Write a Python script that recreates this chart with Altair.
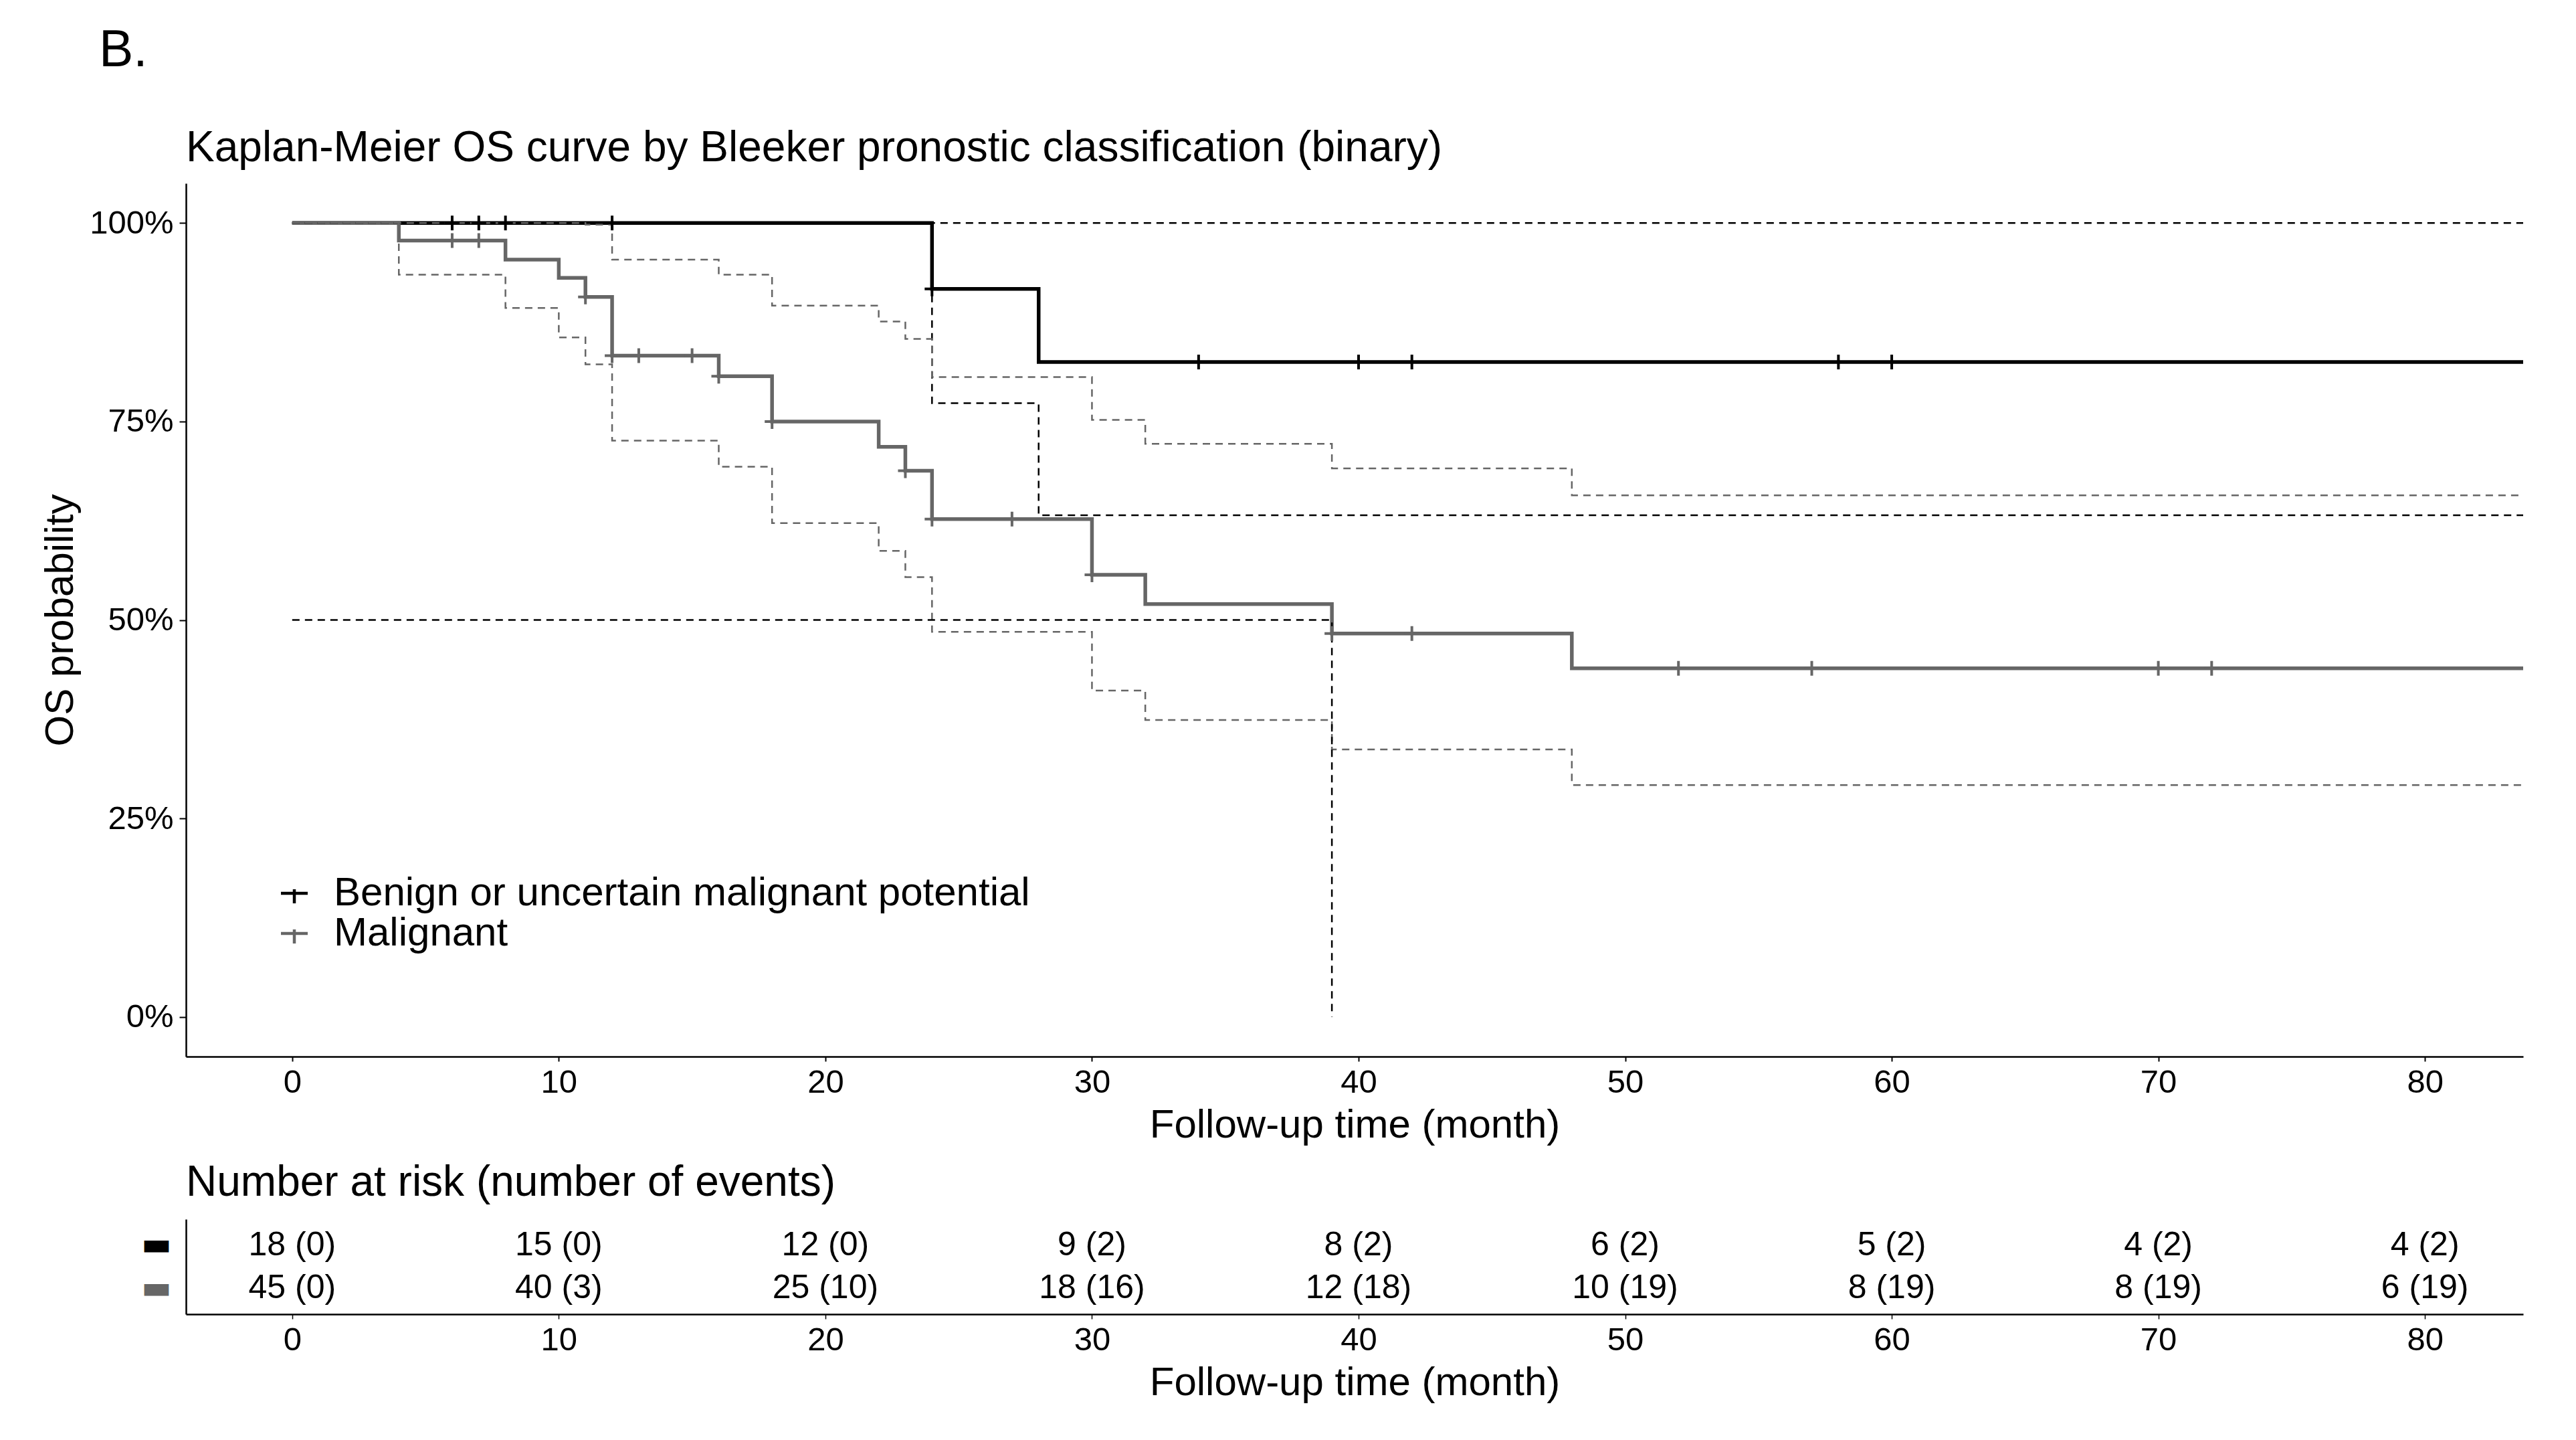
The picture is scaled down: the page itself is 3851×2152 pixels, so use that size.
import altair as alt
import pandas as pd

FONT = "Liberation Sans"
GROUPS = ["Benign or uncertain malignant potential", "Malignant"]
COLORS = ["#000000", "#666666"]

# Kaplan-Meier step curves (time in months, survival probability)
benign_time = [0, 24, 28, 84]
benign_surv = [1.0, 0.917, 0.825, 0.825]
benign_upper = [1.0, 1.0, 1.0, 1.0]
benign_lower = [1.0, 0.773, 0.632, 0.632]

malig_time = [0, 4, 8, 10, 11, 12, 16, 18, 22, 23, 24, 30, 32, 39, 48, 84]
malig_surv = [1.0, 0.978, 0.954, 0.931, 0.907, 0.833, 0.807, 0.750, 0.718,
              0.688, 0.627, 0.557, 0.520, 0.483, 0.439, 0.439]
malig_upper = [1.0, 1.0, 1.0, 1.0, 0.998, 0.954, 0.935, 0.896, 0.876,
               0.854, 0.806, 0.752, 0.722, 0.691, 0.657, 0.657]
malig_lower = [1.0, 0.935, 0.893, 0.856, 0.822, 0.726, 0.693, 0.622, 0.587,
               0.554, 0.485, 0.411, 0.374, 0.337, 0.292, 0.292]

# censoring marks
benign_cens_time = [6, 7, 8, 12, 24, 34, 40, 42, 58, 60]
benign_cens_surv = [1.0, 1.0, 1.0, 1.0, 0.917, 0.825, 0.825, 0.825, 0.825, 0.825]
malig_cens_time = [6, 7, 11, 12, 13, 15, 16, 18, 23, 24, 27, 30, 39, 42, 52, 57, 70, 72]
malig_cens_surv = [0.978, 0.978, 0.907, 0.833, 0.833, 0.833, 0.807, 0.750, 0.688,
                   0.627, 0.627, 0.557, 0.483, 0.483, 0.439, 0.439, 0.439, 0.439]

# median survival line (malignant)
median_time = [0, 39, 39]
median_surv = [0.5, 0.5, 0.0]

# risk table
risk_times = [0, 10, 20, 30, 40, 50, 60, 70, 80]
benign_risk = ["18 (0)", "15 (0)", "12 (0)", "9 (2)", "8 (2)", "6 (2)", "5 (2)", "4 (2)", "4 (2)"]
malig_risk = ["45 (0)", "40 (3)", "25 (10)", "18 (16)", "12 (18)", "10 (19)", "8 (19)", "8 (19)", "6 (19)"]

X_DOMAIN = [-3.985, 83.685]
X_TICKS = [0, 10, 20, 30, 40, 50, 60, 70, 80]

curve_df = pd.concat([
    pd.DataFrame({"time": benign_time, "surv": benign_surv, "group": GROUPS[0]}),
    pd.DataFrame({"time": malig_time, "surv": malig_surv, "group": GROUPS[1]}),
])
ci_df = pd.concat([
    pd.DataFrame({"time": benign_time, "surv": benign_upper, "group": GROUPS[0], "bound": "upper"}),
    pd.DataFrame({"time": benign_time, "surv": benign_lower, "group": GROUPS[0], "bound": "lower"}),
    pd.DataFrame({"time": malig_time, "surv": malig_upper, "group": GROUPS[1], "bound": "upper"}),
    pd.DataFrame({"time": malig_time, "surv": malig_lower, "group": GROUPS[1], "bound": "lower"}),
])
cens_df = pd.concat([
    pd.DataFrame({"time": benign_cens_time, "surv": benign_cens_surv, "group": GROUPS[0]}),
    pd.DataFrame({"time": malig_cens_time, "surv": malig_cens_surv, "group": GROUPS[1]}),
])
median_df = pd.DataFrame({"time": median_time, "surv": median_surv, "order": [0, 1, 2]})
risk_df = pd.concat([
    pd.DataFrame({"time": risk_times, "label": benign_risk, "group": GROUPS[0]}),
    pd.DataFrame({"time": risk_times, "label": malig_risk, "group": GROUPS[1]}),
])

xscale = alt.Scale(domain=X_DOMAIN, nice=False, zero=False)
yscale = alt.Scale(domain=[-0.05, 1.05], nice=False, zero=False)
cscale = alt.Scale(domain=GROUPS, range=COLORS)

x_axis = alt.Axis(values=X_TICKS, title="Follow-up time (month)", labelFontSize=49,
                  titleFontSize=60, tickSize=7, labelPadding=7, titlePadding=10,
                  labelFlush=False)
y_axis = alt.Axis(values=[0, 0.25, 0.5, 0.75, 1.0], format=".0%", title="OS probability",
                  labelFontSize=49, titleFontSize=60, tickSize=10, labelPadding=9,
                  titlePadding=12)

x_enc = alt.X("time:Q", scale=xscale, axis=x_axis)
y_enc = alt.Y("surv:Q", scale=yscale, axis=y_axis)

curves = alt.Chart(curve_df).mark_line(interpolate="step-after", strokeWidth=5.5, clip=True).encode(
    x=x_enc, y=y_enc,
    color=alt.Color("group:N", scale=cscale, legend=alt.Legend(
        title=None, orient="none", legendX=132, legendY=1031, direction="vertical",
        symbolType="M-1,0H1M0,-0.3V0.75", symbolSize=1600, symbolStrokeWidth=4.5,
        labelFontSize=60, labelFont=FONT, labelColor="black", labelOffset=29,
        rowPadding=-3, padding=0, labelLimit=0)),
)
ci = alt.Chart(ci_df).mark_line(interpolate="step-after", strokeWidth=2.5,
                                strokeDash=[11, 8], clip=True).encode(
    x=x_enc, y=y_enc,
    color=alt.Color("group:N", scale=cscale, legend=None),
    detail="bound:N",
)
median = alt.Chart(median_df).mark_line(color="black", strokeWidth=2.5,
                                        strokeDash=[11, 8], clip=True).encode(
    x=x_enc, y=y_enc, order="order:Q")
cens = alt.Chart(cens_df).mark_point(shape="M-1,0H1M0,-1V1", size=484, filled=False,
                                     strokeWidth=4, opacity=1, clip=True).encode(
    x=x_enc, y=y_enc,
    color=alt.Color("group:N", scale=cscale, legend=None),
)

upper = alt.layer(curves, ci, median, cens).properties(
    width=3494, height=1305,
    title=alt.TitleParams("Kaplan-Meier OS curve by Bleeker pronostic classification (binary)",
                          anchor="start", frame="group", fontSize=64, fontWeight="normal",
                          font=FONT, color="black", baseline="alphabetic", offset=-31),
)

risk = alt.Chart(risk_df).mark_text(fontSize=50, font=FONT, color="black").encode(
    x=alt.X("time:Q", scale=xscale, axis=alt.Axis(
        values=X_TICKS, title="Follow-up time (month)", labelFontSize=49,
        titleFontSize=60, tickSize=7, tickWidth=1.5, labelPadding=7, titlePadding=10,
        labelFlush=False)),
    y=alt.Y("group:N", scale=alt.Scale(domain=GROUPS, padding=0.6), axis=alt.Axis(
        title=None, ticks=False, labelExpr="'\u25ac'", labelFont="DejaVu Sans",
        labelFontSize=48, labelPadding=22,
        labelColor={"condition": {"test": "datum.value == 'Malignant'", "value": "#666666"},
                    "value": "black"})),
    text="label:N",
).properties(
    width=3494, height=142,
    title=alt.TitleParams("Number at risk (number of events)", anchor="start", frame="group",
                          fontSize=64, fontWeight="normal", font=FONT, color="black",
                          baseline="alphabetic", offset=-29),
)

chart = alt.vconcat(upper, risk, spacing=243, bounds="flush").properties(
    title=alt.TitleParams("B.", anchor="start", frame="group", fontSize=77, fontWeight="normal",
                          font=FONT, color="black", dx=-130, offset=75),
    padding={"left": 52, "top": 29, "right": 10, "bottom": 10},
).configure_view(stroke=None).configure_axis(
    domainColor="black", domainWidth=2.5, tickColor="black", tickWidth=2,
    labelColor="black", titleColor="black", labelFont=FONT, titleFont=FONT,
    titleFontWeight="normal", grid=False,
)

chart.save("out.html", embed_options={"renderer": "svg", "actions": False})
